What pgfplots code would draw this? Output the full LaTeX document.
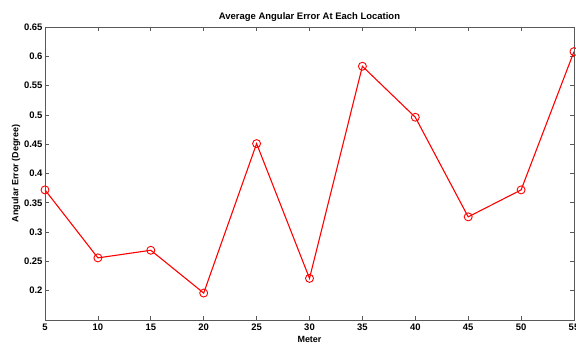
\documentclass[border=0pt]{standalone}
\usepackage{fontspec}
\setmainfont{Liberation Sans}
\usepackage{pgfplots}
\pgfplotsset{compat=1.18}
\begin{document}
\begin{tikzpicture}[x=1bp,y=1bp]
\begin{axis}[
  at={(45bp,25bp)}, anchor=south west,
  scale only axis, width=529bp, height=293bp,
  xmin=5, xmax=55, ymin=0.15, ymax=0.65,
  xtick={5,10,...,55},
  ytick={0.2,0.25,...,0.65},
  yticklabels={0.2,0.25,0.3,0.35,0.4,0.45,0.5,0.55,0.6,0.65},
  tick align=inside, major tick length=4bp,
  axis line style={draw=black!65, line width=0.7pt},
  tick style={draw=black!65, line width=0.7pt},
  ticklabel style={font=\fontsize{9.5}{11}\selectfont\bfseries},
  /pgf/number format/assume math mode=true,
  yticklabel style={xshift=1bp},
  xticklabel style={yshift=0bp},
  title={\bfseries Average Angular Error At Each Location},
  title style={font=\fontsize{9.5}{11}\selectfont, yshift=-4bp},
  xlabel={\bfseries Meter},
  ylabel={\bfseries Angular Error (Degree)},
  label style={font=\fontsize{9}{11}\selectfont},
  xlabel style={yshift=1bp},
  ylabel style={yshift=-3bp},
]
\addplot[red, line width=1.1pt, mark=o, mark size=4bp, mark options={line width=0.9pt}]
  coordinates {(5,0.372) (10,0.256) (15,0.269) (20,0.196) (25,0.451) (30,0.221) (35,0.583) (40,0.496) (45,0.326) (50,0.372) (55,0.608)};
\end{axis}
\pgfresetboundingbox
\path[use as bounding box] (0,0) rectangle (576bp,345bp);
\end{tikzpicture}
\end{document}
